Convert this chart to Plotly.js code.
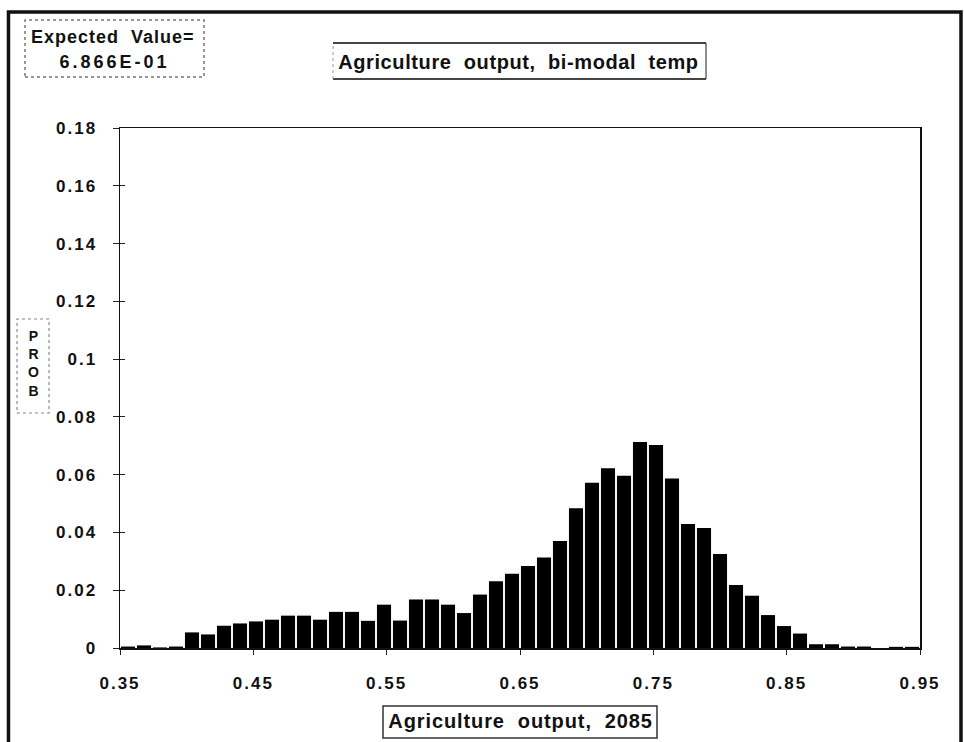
<!DOCTYPE html>
<html>
<head>
<meta charset="utf-8">
<script src="https://cdn.plot.ly/plotly-3.0.1.min.js"></script>
<style>
  html, body { margin: 0; padding: 0; background: #ffffff; }
  #chart { width: 964px; height: 742px; }
  #chart .ytick text, #chart .xtick text { letter-spacing: 2px; }
  #chart .annotation[data-index="0"] text { letter-spacing: 1px; }
  #chart .annotation[data-index="1"] text { letter-spacing: 3px; }
  #chart .annotation[data-index="2"] text { letter-spacing: 0.6px; }
  #chart .annotation[data-index="3"] text { letter-spacing: 0.9px; }
</style>
</head>
<body>
<div id="chart"></div>
<script>
// Bin centres (bin width 0.012, from 0.35 to 0.95)
const binCenters = [0.356,0.368,0.380,0.392,0.404,0.416,0.428,0.440,0.452,0.464,
                    0.476,0.488,0.500,0.512,0.524,0.536,0.548,0.560,0.572,0.584,
                    0.596,0.608,0.620,0.632,0.644,0.656,0.668,0.680,0.692,0.704,
                    0.716,0.728,0.740,0.752,0.764,0.776,0.788,0.800,0.812,0.824,
                    0.836,0.848,0.860,0.872,0.884,0.896,0.908,0.920,0.932,0.944];
// Probability per bin
const probValues = [0.0005,0.0009,0.0002,0.0005,0.0054,0.0047,0.0077,0.0085,0.0092,0.0098,
                    0.0112,0.0112,0.0098,0.0125,0.0125,0.0094,0.0150,0.0095,0.0168,0.0168,
                    0.0150,0.0121,0.0185,0.0231,0.0257,0.0284,0.0313,0.0370,0.0484,0.0572,
                    0.0622,0.0596,0.0713,0.0703,0.0587,0.0429,0.0415,0.0325,0.0218,0.0181,
                    0.0114,0.0076,0.0050,0.0013,0.0013,0.0005,0.0005,0.0000,0.0004,0.0004];
const xTickVals = [0.35,0.45,0.55,0.65,0.75,0.85,0.95];
const xTickText = ["0.35","0.45","0.55","0.65","0.75","0.85","0.95"];
const yTickVals = [0,0.02,0.04,0.06,0.08,0.10,0.12,0.14,0.16,0.18];
const yTickText = ["0","0.02","0.04","0.06","0.08","0.1","0.12","0.14","0.16","0.18"];

const chartTitle = "Agriculture\u00a0\u00a0output,\u00a0\u00a0bi-modal\u00a0\u00a0temp";
const xTitle = "Agriculture\u00a0\u00a0output,\u00a0\u00a02085";
const yTitle = "P<br>R<br>O<br>B";
const expLine1 = "Expected\u00a0\u00a0Value=";
const expLine2 = "6.866E-01";

const FONT = "Liberation Sans, Arial, Helvetica, sans-serif";

const traces = [
  {
    type: "bar",
    x: binCenters,
    y: probValues,
    marker: { color: "#000000", line: { width: 0 } },
    hoverinfo: "x+y",
    showlegend: false
  },
  {
    type: "scatter",
    x: [],
    y: [],
    xaxis: "x2",
    yaxis: "y2",
    hoverinfo: "skip",
    showlegend: false
  }
];

const layout = {
  width: 964,
  height: 742,
  margin: { l: 120, r: 44, t: 128, b: 94 },
  paper_bgcolor: "#ffffff",
  plot_bgcolor: "#ffffff",
  bargap: 0.12,
  showlegend: false,
  font: { family: FONT, color: "#111111" },
  xaxis: {
    range: [0.35, 0.95],
    tickvals: xTickVals,
    ticktext: xTickText,
    ticks: "outside",
    ticklen: 5,
    tickcolor: "#222",
    tickwidth: 1,
    ticklabelstandoff: 14,
    tickfont: { family: FONT, size: 17, weight: "bold", color: "#111" },
    showline: true,
    linecolor: "#111",
    linewidth: 1.5,
    mirror: true,
    showgrid: false,
    zeroline: false,
    fixedrange: true
  },
  yaxis: {
    range: [0, 0.18],
    tickvals: yTickVals,
    ticktext: yTickText,
    ticks: "outside",
    ticklen: 6,
    tickcolor: "#222",
    tickwidth: 1,
    ticklabelstandoff: 12,
    tickfont: { family: FONT, size: 17, weight: "bold", color: "#111" },
    showline: true,
    linecolor: "#111",
    linewidth: 1.5,
    mirror: true,
    showgrid: false,
    zeroline: false,
    fixedrange: true
  },
  xaxis2: {
    overlaying: "x",
    anchor: "y2",
    range: [0.35, 0.95],
    showticklabels: false,
    ticks: "",
    showline: false,
    showgrid: false,
    zeroline: false
  },
  yaxis2: {
    overlaying: "y",
    anchor: "x2",
    range: [0, 0.18],
    tickvals: yTickVals,
    showticklabels: false,
    ticks: "inside",
    ticklen: 5,
    tickcolor: "#222",
    tickwidth: 1,
    showline: false,
    showgrid: false,
    zeroline: false
  },
  shapes: [
    // outer frame
    { type: "rect", xref: "paper", yref: "paper", x0: -0.1394, x1: 1.05125, y0: -0.2, y1: 1.2231,
      line: { color: "#111", width: 3.5 } },
    // expected value box
    { type: "rect", xref: "paper", yref: "paper", x0: -0.11875, x1: 0.105, y0: 1.0981, y1: 1.2077,
      line: { color: "#777", width: 1.5, dash: "dot" } },
    // title box
    { type: "line", xref: "paper", yref: "paper", x0: 0.26625, x1: 0.7325, y0: 1.1635, y1: 1.1635,
      line: { color: "#444", width: 2 } },
    { type: "line", xref: "paper", yref: "paper", x0: 0.26625, x1: 0.7325, y0: 1.0942, y1: 1.0942,
      line: { color: "#444", width: 2 } },
    { type: "line", xref: "paper", yref: "paper", x0: 0.26625, x1: 0.26625, y0: 1.0942, y1: 1.1635,
      line: { color: "#999", width: 1, dash: "dot" } },
    { type: "line", xref: "paper", yref: "paper", x0: 0.7325, x1: 0.7325, y0: 1.0942, y1: 1.1635,
      line: { color: "#444", width: 1.2 } },
    // x title box
    { type: "rect", xref: "paper", yref: "paper", x0: 0.32875, x1: 0.67125, y0: -0.1731, y1: -0.1115,
      line: { color: "#333", width: 1.5 } },
    // y title box
    { type: "rect", xref: "paper", yref: "paper", x0: -0.12875, x1: -0.08875, y0: 0.4519, y1: 0.6327,
      line: { color: "#888", width: 1.2, dash: "dot" } }
  ],
  annotations: [
    { xref: "paper", yref: "paper", x: -0.00875, y: 1.175, text: expLine1, showarrow: false,
      xanchor: "center", yanchor: "middle",
      font: { family: FONT, size: 18, weight: "bold", color: "#111" } },
    { xref: "paper", yref: "paper", x: -0.0075, y: 1.1269, text: expLine2, showarrow: false,
      xanchor: "center", yanchor: "middle",
      font: { family: FONT, size: 18, weight: "bold", color: "#111" } },
    { xref: "paper", yref: "paper", x: 0.4975, y: 1.1269, text: chartTitle, showarrow: false,
      xanchor: "center", yanchor: "middle",
      font: { family: FONT, size: 20, weight: "bold", color: "#111" } },
    { xref: "paper", yref: "paper", x: 0.5, y: -0.1404, text: xTitle, showarrow: false,
      xanchor: "center", yanchor: "middle",
      font: { family: FONT, size: 20, weight: "bold", color: "#111" } },
    { xref: "paper", yref: "paper", x: -0.10875, y: 0.548, text: yTitle, showarrow: false,
      xanchor: "center", yanchor: "middle",
      font: { family: FONT, size: 14, weight: "bold", color: "#111" } }
  ]
};

Plotly.newPlot("chart", traces, layout, { displayModeBar: false, staticPlot: true });
</script>
</body>
</html>
